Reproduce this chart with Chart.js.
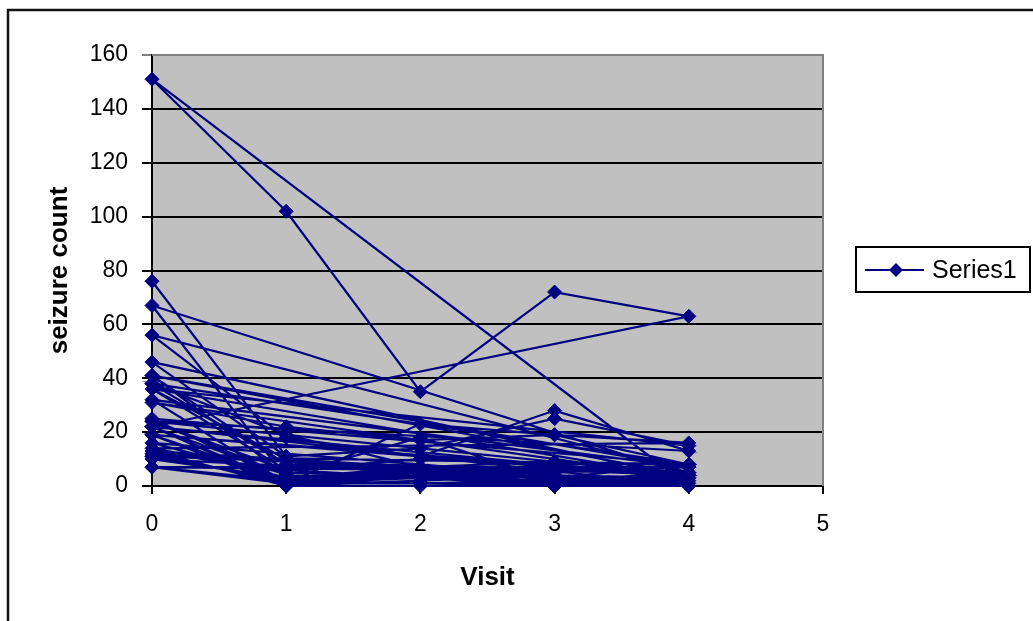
<!DOCTYPE html>
<html>
<head>
<meta charset="utf-8">
<title>seizure count by visit</title>
<script src="https://cdn.jsdelivr.net/npm/chart.js@4/dist/chart.umd.min.js"></script>
<style>
  body { margin: 0; background: #fff; }
  #wrap { width: 1033px; height: 621px; }
</style>
</head>
<body>
<div id="wrap"><canvas id="seizureChart" width="1033" height="621"></canvas></div>
<script>
// one row per patient (visit 0 = baseline)
const visits = [0, 1, 2, 3, 4];
const baseline = [76, 38, 19, 10, 19, 24, 31, 14, 11, 67, 41, 7, 22, 13, 46, 36, 38, 7, 36, 11, 151, 22, 41, 32, 56, 24, 16, 22, 25, 13, 12];
const visit1 = [11, 8, 0, 3, 2, 4, 22, 5, 2, 3, 4, 2, 0, 5, 11, 10, 19, 1, 6, 2, 102, 4, 8, 1, 18, 6, 3, 1, 2, 0, 1];
const visit2 = [14, 7, 4, 6, 6, 3, 17, 4, 4, 7, 18, 1, 2, 4, 14, 5, 7, 1, 10, 1, 35, 3, 6, 3, 11, 3, 5, 23, 3, 0, 4];
const visit3 = [9, 9, 3, 1, 7, 1, 19, 7, 0, 7, 2, 1, 4, 0, 25, 3, 6, 2, 8, 0, 72, 2, 5, 1, 28, 4, 4, 19, 0, 0, 3];
const visit4 = [8, 4, 0, 3, 4, 3, 16, 4, 4, 7, 5, 0, 0, 3, 15, 8, 7, 3, 8, 0, 63, 4, 7, 5, 13, 0, 3, 8, 1, 0, 2];
const xTicks = [0, 1, 2, 3, 4, 5];
const yTicks = [0, 20, 40, 60, 80, 100, 120, 140, 160];
const seriesName = 'Series1';

const counts = [baseline, visit1, visit2, visit3, visit4];
const points = [];
baseline.forEach((b, i) => {
  visits.forEach((v, j) => {
    points.push({ x: v, y: counts[j][i] });
  });
});

const navy = '#000080';

// outer frame, grey plot area and the legend box
const excelLook = {
  id: 'excelLook',
  beforeDraw(chart) {
    const ctx = chart.ctx;
    const a = chart.chartArea;
    ctx.save();
    ctx.fillStyle = '#fff';
    ctx.fillRect(0, 0, chart.width, chart.height);
    ctx.strokeStyle = '#111';
    ctx.lineWidth = 2.5;
    ctx.beginPath();
    ctx.moveTo(8, chart.height + 2);
    ctx.lineTo(8, 10);
    ctx.lineTo(chart.width + 2, 10);
    ctx.stroke();
    ctx.fillStyle = '#c0c0c0';
    ctx.fillRect(a.left, a.top, a.right - a.left, a.bottom - a.top);
    ctx.restore();
  },
  afterDraw(chart) {
    const ctx = chart.ctx;
    const a = chart.chartArea;
    ctx.save();
    ctx.strokeStyle = '#808080';
    ctx.lineWidth = 2;
    ctx.beginPath();
    ctx.moveTo(a.left, a.top);
    ctx.lineTo(a.right, a.top);
    ctx.lineTo(a.right, a.bottom);
    ctx.stroke();

    // legend
    ctx.strokeStyle = '#000';
    ctx.lineWidth = 2;
    ctx.strokeRect(856, 247, 174, 45);
    ctx.strokeStyle = navy;
    ctx.lineWidth = 2.2;
    ctx.beginPath();
    ctx.moveTo(865, 270);
    ctx.lineTo(924, 270);
    ctx.stroke();
    ctx.fillStyle = navy;
    ctx.beginPath();
    ctx.moveTo(896, 263);
    ctx.lineTo(903, 270);
    ctx.lineTo(896, 277);
    ctx.lineTo(889, 270);
    ctx.closePath();
    ctx.fill();
    ctx.fillStyle = '#000';
    ctx.font = '25px "Liberation Sans", Arial, sans-serif';
    ctx.textBaseline = 'middle';
    ctx.fillText(seriesName, 932, 271);
    ctx.restore();
  }
};

const ctx = document.getElementById('seizureChart').getContext('2d');
new Chart(ctx, {
  type: 'scatter',
  data: {
    datasets: [{
      label: seriesName,
      data: points,
      showLine: true,
      borderColor: navy,
      backgroundColor: navy,
      borderWidth: 2.2,
      pointStyle: 'rectRot',
      pointRadius: 7,
      pointBorderWidth: 1,
      pointBorderColor: navy,
      tension: 0,
      clip: false,
    }],
  },
  options: {
    responsive: false,
    animation: false,
    layout: { padding: { top: 55, right: 210, bottom: 0, left: 0 } },
    plugins: {
      legend: { display: false },
      tooltip: { enabled: false },
    },
    scales: {
      x: {
        type: 'linear',
        min: xTicks[0],
        max: xTicks[xTicks.length - 1],
        afterBuildTicks: (scale) => { scale.ticks = xTicks.map((v) => ({ value: v })); },
        afterFit: (scale) => { scale.height = 135; },
        grid: { drawOnChartArea: false, drawTicks: true, tickLength: 8, color: '#000', lineWidth: 2 },
        border: { color: '#000', width: 2 },
        ticks: {
          color: '#000',
          padding: 17,
          maxRotation: 0,
          font: { family: '"Liberation Sans", Arial, sans-serif', size: 23 },
        },
        title: {
          display: true,
          text: 'Visit',
          color: '#000',
          padding: { top: 0, bottom: 28 },
          font: { family: '"Liberation Sans", Arial, sans-serif', size: 26, weight: 'bold' },
        },
      },
      y: {
        type: 'linear',
        min: yTicks[0],
        max: yTicks[yTicks.length - 1],
        afterBuildTicks: (scale) => { scale.ticks = yTicks.map((v) => ({ value: v })); },
        afterFit: (scale) => { scale.width = 152; },
        grid: {
          drawTicks: true,
          tickLength: 10,
          lineWidth: 2,
          color: (c) => (c.tick && c.tick.value === 160 ? '#808080' : '#000'),
        },
        border: { color: '#000', width: 2 },
        ticks: {
          color: '#000',
          padding: 14,
          font: { family: '"Liberation Sans", Arial, sans-serif', size: 23 },
        },
        title: {
          display: true,
          text: 'seizure count',
          color: '#000',
          padding: { top: 44, bottom: 0 },
          font: { family: '"Liberation Sans", Arial, sans-serif', size: 26, weight: 'bold' },
        },
      },
    },
  },
  plugins: [excelLook],
});
</script>
</body>
</html>
